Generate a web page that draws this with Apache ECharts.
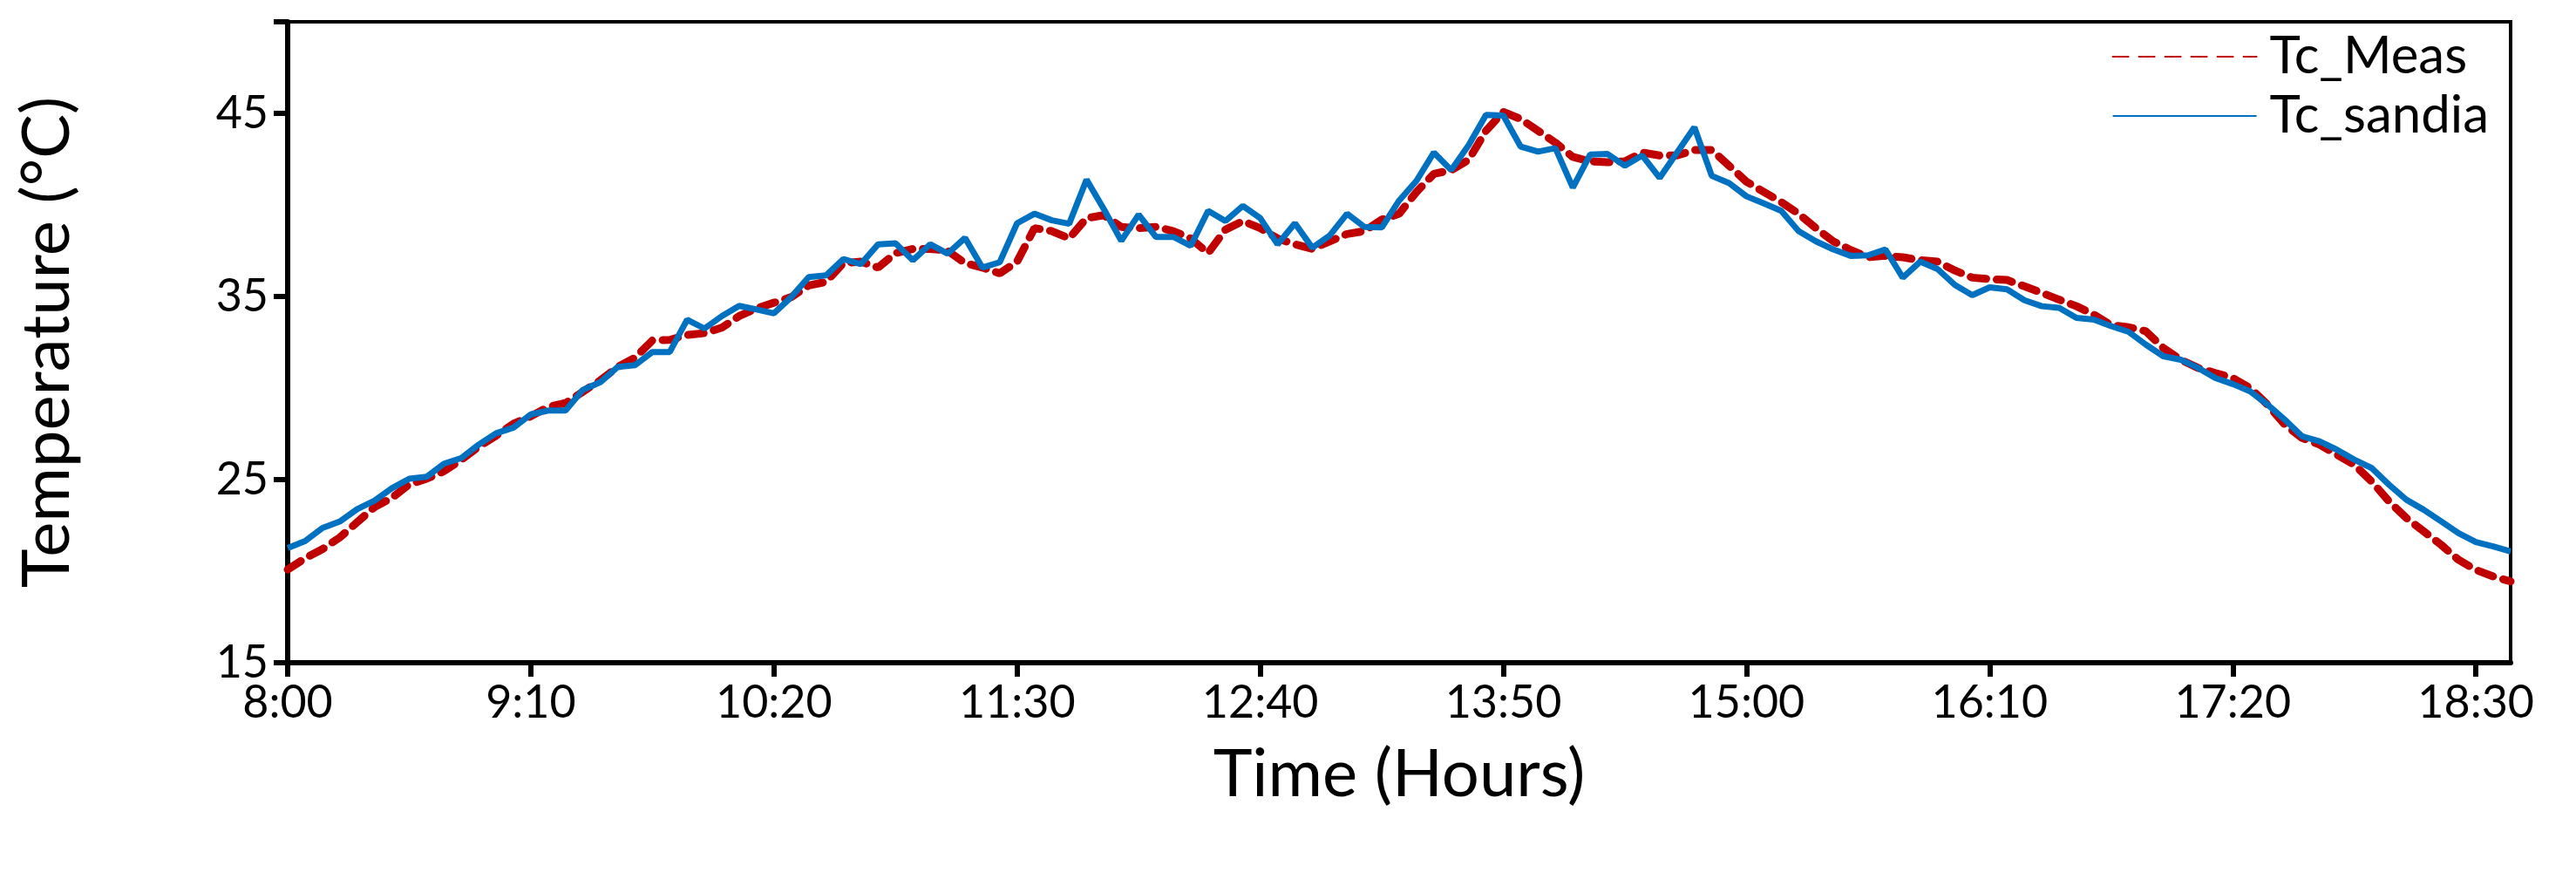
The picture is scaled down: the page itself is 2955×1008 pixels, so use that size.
<!DOCTYPE html>
<html>
<head>
    <meta charset="UTF-8">
    <title>Tc</title>
    <style>
        html, body { margin: 0; padding: 0; background: #fff; }
        #container { width: 2955px; height: 1008px; }
    </style>
</head>
<body>
    <div id="container"></div>
    <script src="https://cdn.jsdelivr.net/npm/echarts@6/dist/echarts.min.js"></script>
    <script>
        // samples every 5 minutes from 8:00
        var stepMin = 5;
        var startHour = 8;
        var yTicks = [15, 25, 35, 45];

        var tcMeas = [
            20.09, 20.7, 21.2, 21.84, 22.67, 23.5, 24.0, 24.74, 25.05, 25.46, 26.08, 26.8, 27.4, 28.05, 28.46, 28.97, 29.18,
            29.8, 30.42, 31.15, 31.66, 32.6, 32.63, 32.9, 33.0, 33.3, 33.93, 34.35, 34.66, 34.97, 35.6, 35.8, 36.83, 36.9,
            36.58, 37.37, 37.6, 37.6, 37.5, 36.82, 36.58, 36.26, 36.9, 38.73, 38.57, 38.17, 39.28, 39.44, 38.8, 38.73,
            38.8, 38.57, 38.17, 37.37, 38.65, 39.12, 38.73, 38.17, 37.85, 37.6, 38.01, 38.41, 38.57, 39.2, 39.52, 40.71,
            41.7, 41.9, 42.46, 44.05, 45.08, 44.69, 44.05, 43.4, 42.62, 42.38, 42.33, 42.38, 42.86, 42.7, 42.7, 43.0, 43.0,
            42.14, 41.27, 40.71, 40.16, 39.52, 38.73, 38.01, 37.54, 37.14, 37.22, 37.14, 36.98, 36.9, 36.42, 36.03, 35.95, 35.9,
            35.56, 35.2, 34.83, 34.47, 34.01, 33.43, 33.32, 33.1, 32.19, 31.55, 31.1, 30.82, 30.55, 30.0, 29.1, 28.0, 27.27,
            26.91, 26.36, 25.81, 24.9, 23.81, 22.9, 22.17, 21.44, 20.62, 20.07, 19.71, 19.44
        ];
        var tcSandia = [
            21.26, 21.64, 22.36, 22.71, 23.39, 23.85, 24.53, 25.05, 25.15, 25.87, 26.18, 26.91, 27.53, 27.84, 28.56, 28.77, 28.77,
            29.9, 30.32, 31.15, 31.25, 31.97, 31.97, 33.73, 33.25, 33.93, 34.49, 34.29, 34.08, 34.97, 36.06, 36.15, 37.04, 36.77,
            37.85, 37.9, 36.98, 37.85, 37.34, 38.2, 36.58, 36.87, 39.0, 39.52, 39.16, 38.97, 41.38, 39.76, 38.04, 39.47,
            38.25, 38.25, 37.77, 39.68, 39.12, 39.95, 39.28, 37.85, 39.0, 37.66, 38.33, 39.52, 38.8, 38.77, 40.24, 41.32, 42.86,
            41.9, 43.26, 44.92, 44.88, 43.18, 42.91, 43.1, 40.95, 42.75, 42.78, 42.14, 42.7, 41.48, 42.86, 44.24, 41.59,
            41.19, 40.47, 40.08, 39.68, 38.57, 38.01, 37.57, 37.22, 37.25, 37.57, 36.03, 36.9, 36.5, 35.63, 35.07, 35.5, 35.39,
            34.8, 34.47, 34.38, 33.83, 33.74, 33.38, 33.07, 32.37, 31.74, 31.55, 31.1, 30.55, 30.22, 29.82, 29.1, 28.27,
            27.36, 27.09, 26.63, 26.09, 25.63, 24.72, 23.9, 23.35, 22.72, 22.08, 21.59, 21.35, 21.08
        ];

        function pairs(arr) {
            return arr.map(function (v, i) { return [i * stepMin, v]; });
        }
        function fmtTime(m) {
            var h = startHour + Math.floor(m / 60);
            var mm = m % 60;
            return h + ':' + (mm < 10 ? '0' + mm : mm);
        }

        var font = 'Lato, "Open Sans", sans-serif';
        var myChart = echarts.init(document.getElementById('container'));
        myChart.setOption({
            animation: false,
            grid: {
                left: 330, right: 75, top: 25, bottom: 248,
                show: true, borderColor: '#000', borderWidth: 4
            },
            legend: {
                orient: 'vertical',
                right: 95, top: 30,
                itemWidth: 165, itemHeight: 24, itemGap: 8,
                itemStyle: { opacity: 0 },
                textStyle: { fontFamily: font, fontSize: 60, color: '#000', padding: [0, 0, 0, 10] },
                data: ['Tc_Meas', 'Tc_sandia']
            },
            xAxis: {
                type: 'value',
                min: 0, max: (tcMeas.length - 1) * stepMin, interval: 70,
                name: 'Time (Hours)',
                nameLocation: 'middle', nameGap: 90,
                nameTextStyle: { fontFamily: font, fontSize: 76, color: '#000' },
                splitLine: { show: false },
                axisLine: { lineStyle: { color: '#000', width: 6 } },
                axisTick: { inside: false, length: 16, lineStyle: { color: '#000', width: 6 } },
                axisLabel: {
                    fontFamily: font, fontSize: 52, color: '#000', margin: 20,
                    showMaxLabel: false,
                    formatter: function (v) { return fmtTime(v); }
                }
            },
            yAxis: {
                type: 'value',
                min: 15, max: 50, interval: 10,
                name: 'Temperature (°C)',
                nameLocation: 'middle', nameGap: 238,
                nameTextStyle: { fontFamily: font, fontSize: 76, color: '#000' },
                splitLine: { show: false },
                axisLine: { show: true, lineStyle: { color: '#000', width: 6 } },
                axisTick: { show: true, length: 16, lineStyle: { color: '#000', width: 6 } },
                axisLabel: {
                    fontFamily: font, fontSize: 52, color: '#000', margin: 22,
                    formatter: function (v) { return yTicks.indexOf(v) >= 0 ? String(v) : ''; }
                }
            },
            series: [
                {
                    name: 'Tc_Meas', type: 'line', data: pairs(tcMeas),
                    showSymbol: false, symbol: 'none',
                    itemStyle: { color: '#C00000' },
                    lineStyle: { color: '#C00000', width: 9, type: [18, 12], cap: 'round' },
                    z: 2
                },
                {
                    name: 'Tc_sandia', type: 'line', data: pairs(tcSandia),
                    showSymbol: false, symbol: 'none',
                    itemStyle: { color: '#0070C0' },
                    lineStyle: { color: '#0070C0', width: 7 },
                    z: 3
                }
            ]
        });
    </script>
</body>
</html>
